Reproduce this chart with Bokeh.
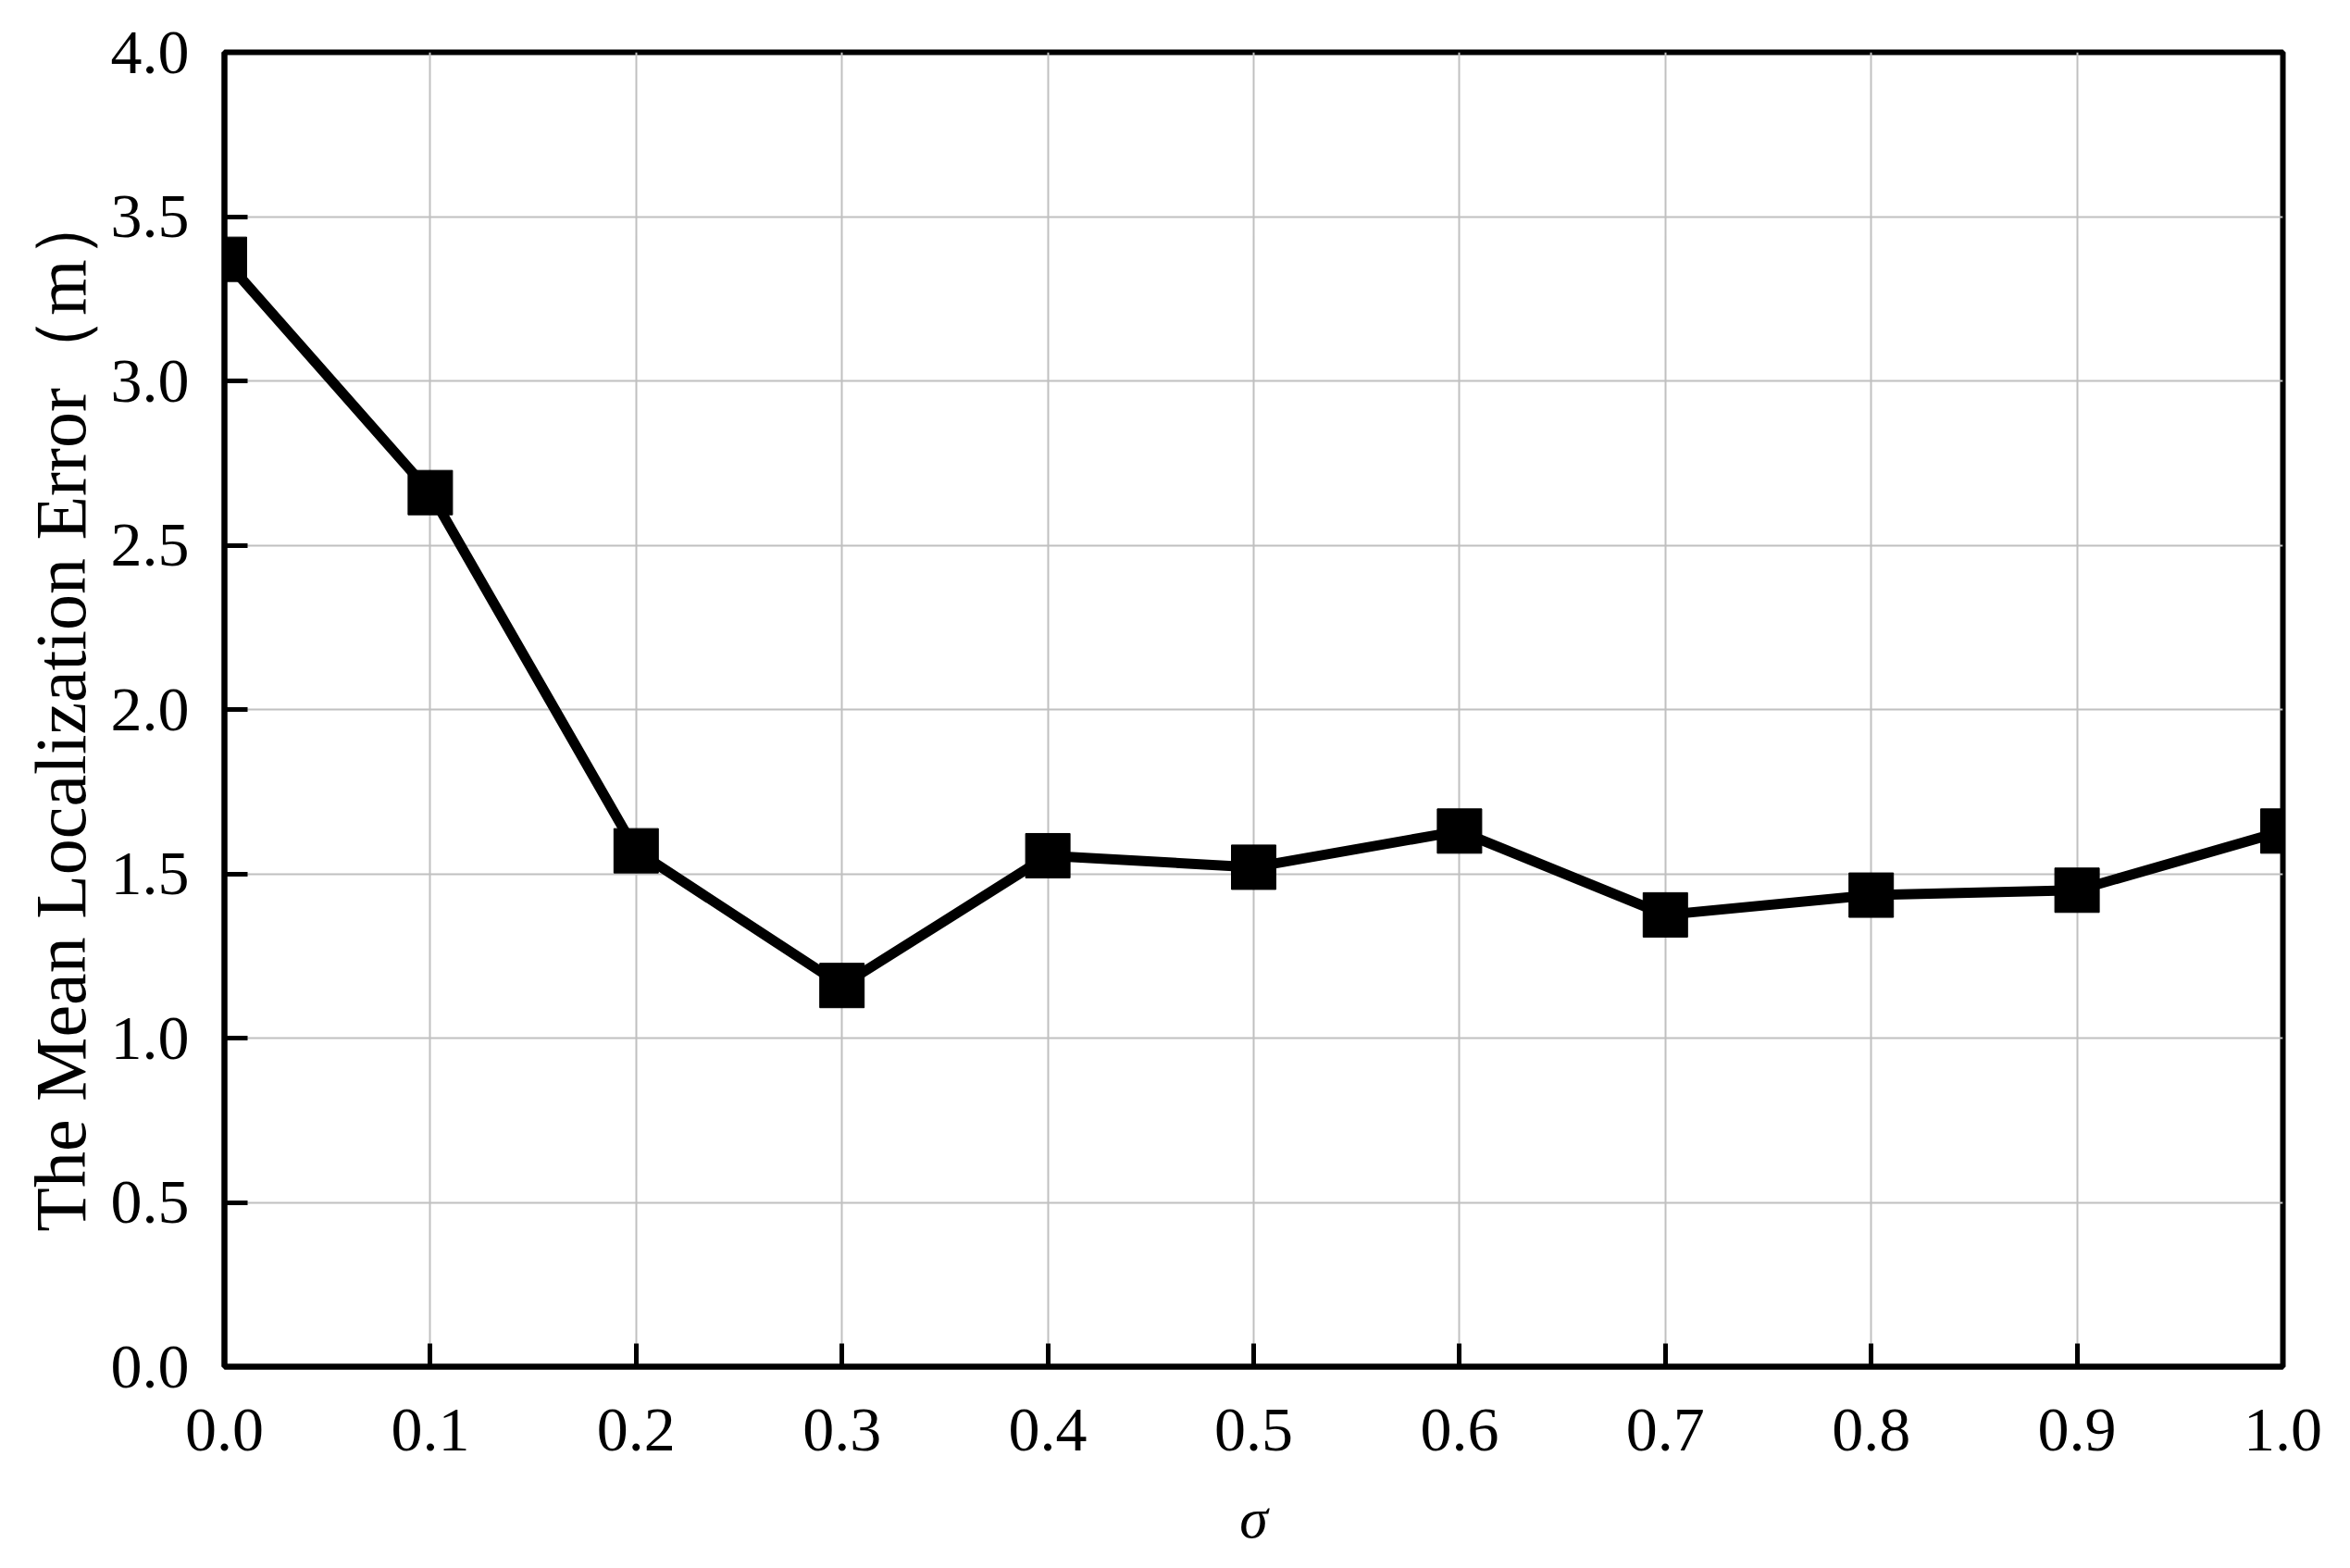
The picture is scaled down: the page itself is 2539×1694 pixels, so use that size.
from bokeh.plotting import figure
from bokeh.models import Range1d, FixedTicker, ColumnDataSource, CustomJSTickFormatter
from bokeh.embed import file_html
from bokeh.resources import INLINE

sigma = [0.0, 0.1, 0.2, 0.3, 0.4, 0.5, 0.6, 0.7, 0.8, 0.9, 1.0]
mean_error = [3.37, 2.66, 1.57, 1.16, 1.555, 1.52, 1.63, 1.375, 1.435, 1.45, 1.63]
x_ticks = [0.0, 0.1, 0.2, 0.3, 0.4, 0.5, 0.6, 0.7, 0.8, 0.9, 1.0]
y_ticks = [0.0, 0.5, 1.0, 1.5, 2.0, 2.5, 3.0, 3.5, 4.0]
x_label = "σ"
y_label = "The Mean Localization Error（m）"

FONT = "Liberation Serif"

src = ColumnDataSource(dict(x=sigma, y=mean_error))

p = figure(width=2520, height=1676, output_backend="svg", toolbar_location=None,
           x_range=Range1d(0, 1), y_range=Range1d(0, 4),
           min_border_left=242, min_border_right=54, min_border_top=56, min_border_bottom=195)

p.outline_line_color = "black"
p.outline_line_width = 6
p.background_fill_color = "white"
p.border_fill_color = "white"

p.xaxis.ticker = FixedTicker(ticks=x_ticks)
p.yaxis.ticker = FixedTicker(ticks=y_ticks)
fmt = CustomJSTickFormatter(code="return tick.toFixed(1);")
p.xaxis.formatter = fmt
p.yaxis.formatter = fmt

for ax in (p.xaxis, p.yaxis):
    ax.axis_line_width = 6
    ax.axis_line_color = "black"
    ax.major_tick_in = 25
    ax.major_tick_out = 0
    ax.major_tick_line_width = 5
    ax.major_tick_line_color = "black"
    ax.minor_tick_line_color = None
    ax.major_label_text_font = FONT
    ax.major_label_text_font_size = "68px"
    ax.major_label_text_color = "black"
    ax.axis_label_text_font = FONT
    ax.axis_label_text_font_style = "normal"
    ax.axis_label_text_color = "black"

p.xaxis.axis_label = x_label
p.xaxis.axis_label_text_font_style = "italic"
p.xaxis.axis_label_text_font_size = "62px"
p.xaxis.major_label_standoff = 46
p.xaxis.axis_label_standoff = 36

p.yaxis.axis_label = y_label
p.yaxis.axis_label_text_font_size = "78px"
p.yaxis.major_label_standoff = 38
p.yaxis.axis_label_standoff = 8

p.xgrid.grid_line_color = "#c0c0c0"
p.ygrid.grid_line_color = "#c0c0c0"
p.xgrid.grid_line_width = 2
p.ygrid.grid_line_width = 2

p.line("x", "y", source=src, line_color="black", line_width=11)
p.scatter("x", "y", source=src, marker="square", size=48, fill_color="black", line_color="black")

open("out.html", "w").write(file_html(p, INLINE))
